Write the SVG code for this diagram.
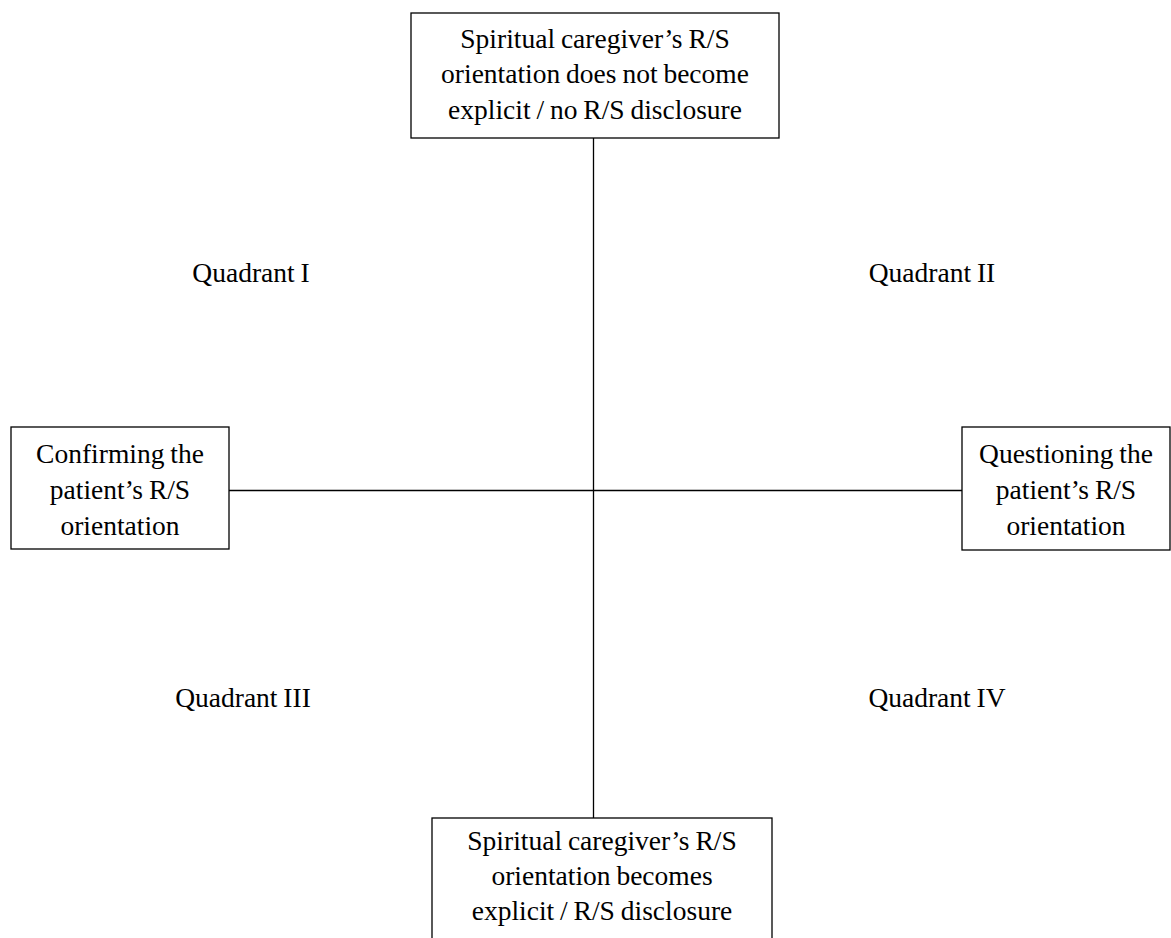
<svg xmlns="http://www.w3.org/2000/svg" width="1171" height="938" viewBox="0 0 1171 938">
<style>
.box{fill:#fff;stroke:#000;stroke-width:1.3}
.ln{stroke:#000;stroke-width:1.3;fill:none}
text{font-family:"Liberation Serif","Times New Roman",serif;font-size:27.5px;fill:#000;text-anchor:middle;word-spacing:-1px}
</style>
<rect width="1171" height="938" fill="#fff"/>
<g id="connectors">
<line class="ln" x1="593.5" y1="138" x2="593.5" y2="818"/>
<line class="ln" x1="229" y1="490.5" x2="962" y2="490.5"/>
</g>
<g id="top">
<rect class="box" x="411" y="13" width="368" height="125"/>
<text x="595" y="48">Spiritual caregiver’s R/S</text>
<text x="595" y="83">orientation does not become</text>
<text x="595" y="119">explicit / no R/S disclosure</text>
</g>
<g id="left">
<rect class="box" x="11" y="427" width="218" height="122"/>
<text x="120" y="463">Confirming the</text>
<text x="120" y="499">patient’s R/S</text>
<text x="120" y="535">orientation</text>
</g>
<g id="right">
<rect class="box" x="962" y="427" width="208" height="123"/>
<text x="1066" y="463">Questioning the</text>
<text x="1066" y="499">patient’s R/S</text>
<text x="1066" y="535">orientation</text>
</g>
<g id="bottom">
<rect class="box" x="432" y="818" width="340" height="140"/>
<text x="602" y="850">Spiritual caregiver’s R/S</text>
<text x="602" y="885">orientation becomes</text>
<text x="602" y="920">explicit / R/S disclosure</text>
</g>
<g id="q1"><text x="251" y="282">Quadrant I</text></g>
<g id="q2"><text x="932" y="282">Quadrant II</text></g>
<g id="q3"><text x="243" y="707">Quadrant III</text></g>
<g id="q4"><text x="937" y="707">Quadrant IV</text></g>
</svg>
